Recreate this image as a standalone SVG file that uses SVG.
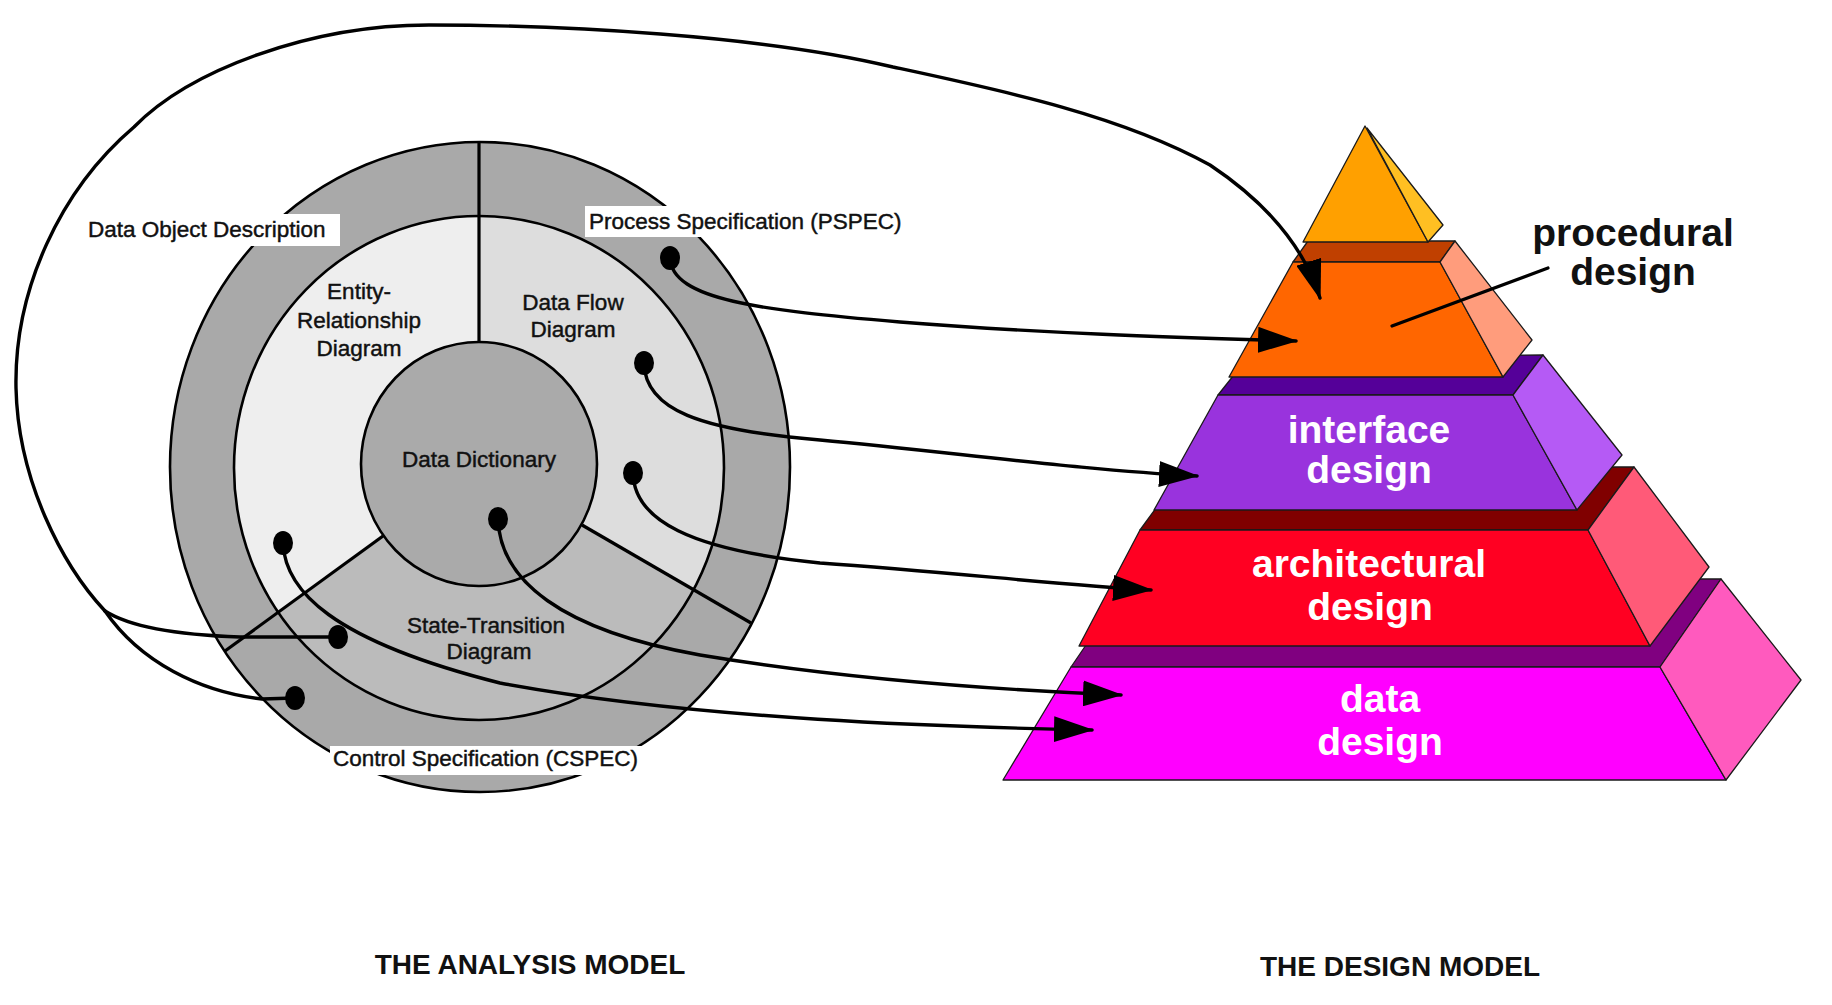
<svg xmlns="http://www.w3.org/2000/svg" width="1832" height="1005" viewBox="0 0 1832 1005">
  <style>
    .lbl { font-family: "Liberation Sans", Arial, sans-serif; font-size: 22.5px; fill: #111; stroke: #111; stroke-width: 0.45; }
    .mid { text-anchor: middle; }
    .pyr { font-family: "Liberation Sans", Arial, sans-serif; font-size: 39px; font-weight: bold; fill: #fff; text-anchor: middle; }
    .pblack { font-family: "Liberation Sans", Arial, sans-serif; font-size: 39px; font-weight: bold; fill: #111; text-anchor: middle; }
    .title { font-family: "Liberation Sans", Arial, sans-serif; font-size: 28px; font-weight: bold; fill: #111; text-anchor: middle; }
    .ring { stroke: #000; stroke-width: 2.6; }
    .div { stroke: #000; stroke-width: 3.2; fill: none; }
    .face { stroke: #1a1a1a; stroke-width: 1.3; stroke-linejoin: round; }
    .conn { fill: none; stroke: #000; stroke-width: 3.4; stroke-linecap: round; }
    .dot { fill: #000; }
    .box { fill: #fff; }
  </style>
  <defs>
    <marker id="ah" markerUnits="userSpaceOnUse" viewBox="0 0 40 26" markerWidth="40" markerHeight="26" refX="38" refY="13" orient="auto">
      <path d="M0,0 L40,13 L0,26 z" fill="#000"/>
    </marker>
    <clipPath id="midClip">
      <ellipse cx="479" cy="468" rx="245" ry="252"/>
    </clipPath>
  </defs>

  <rect x="0" y="0" width="1832" height="1005" fill="#fff"/>

  <!-- ANALYSIS MODEL -->
  <g id="analysis-model">
    <g id="outer-ring">
      <ellipse class="ring" cx="480" cy="467" rx="310" ry="325" fill="#a9a9a9"/>
    </g>
    <g id="middle-ring">
      <ellipse cx="479" cy="468" rx="245" ry="252" fill="#eeeeee"/>
      <g clip-path="url(#midClip)">
        <polygon id="dfd-sector" points="479,466 479,-300 1300,-300 1300,940" fill="#dddddd"/>
        <polygon id="std-sector" points="479,466 1300,940 -329,1055" fill="#bbbbbb"/>
      </g>
      <ellipse class="ring" cx="479" cy="468" rx="245" ry="252" fill="none"/>
    </g>
    <g id="data-dictionary">
      <ellipse class="ring" cx="479" cy="464" rx="118" ry="122" fill="#aaaaaa"/>
      <text class="lbl mid" x="479" y="467">Data Dictionary</text>
    </g>
    <g id="dividers">
      <line class="div" x1="479" y1="142" x2="479" y2="342"/>
      <line class="div" x1="383" y1="536" x2="225" y2="651"/>
      <line class="div" x1="582" y1="525" x2="751" y2="623"/>
    </g>
    <g id="entity-relationship-diagram">
      <text class="lbl mid" x="359" y="299">Entity-</text>
      <text class="lbl mid" x="359" y="328">Relationship</text>
      <text class="lbl mid" x="359" y="356">Diagram</text>
    </g>
    <g id="data-flow-diagram">
      <text class="lbl mid" x="573" y="310">Data Flow</text>
      <text class="lbl mid" x="573" y="337">Diagram</text>
    </g>
    <g id="state-transition-diagram">
      <text class="lbl mid" x="486" y="633">State-Transition</text>
      <text class="lbl mid" x="489" y="659">Diagram</text>
    </g>
    <g id="data-object-description">
      <rect class="box" x="84" y="214" width="256" height="32"/>
      <text class="lbl" x="88" y="237">Data Object Description</text>
    </g>
    <g id="process-specification">
      <rect class="box" x="585" y="206" width="318" height="31"/>
      <text class="lbl" x="589" y="229">Process Specification (PSPEC)</text>
    </g>
    <g id="control-specification">
      <rect class="box" x="330" y="746" width="314" height="29"/>
      <text class="lbl" x="333" y="766">Control Specification (CSPEC)</text>
    </g>
  </g>

  <!-- DESIGN MODEL PYRAMID -->
  <g id="design-model">
    <g id="data-design">
      <polygon class="face" points="1071,667 1131,579 1721,579 1660,667" fill="#800080"/>
      <polygon class="face" points="1071,667 1660,667 1726,780 1003,780" fill="#ff00ff"/>
      <polygon class="face" points="1660,667 1721,579 1801,680 1726,780" fill="#ff5abe"/>
      <text class="pyr" x="1380" y="712">data</text>
      <text class="pyr" x="1380" y="755">design</text>
    </g>
    <g id="architectural-design">
      <polygon class="face" points="1140,530 1186,467 1634,467 1588,530" fill="#800000"/>
      <polygon class="face" points="1140,530 1588,530 1650,646 1079,646" fill="#ff0022"/>
      <polygon class="face" points="1588,530 1634,467 1709,567 1650,646" fill="#ff5a78"/>
      <text class="pyr" x="1369" y="577">architectural</text>
      <text class="pyr" x="1370" y="620">design</text>
    </g>
    <g id="interface-design">
      <polygon class="face" points="1218,395 1249,356 1543,355 1513,395" fill="#550099"/>
      <polygon class="face" points="1218,395 1513,395 1577,510 1154,510" fill="#9933dd"/>
      <polygon class="face" points="1513,395 1543,355 1622,455 1577,510" fill="#b55af5"/>
      <text class="pyr" x="1369" y="443">interface</text>
      <text class="pyr" x="1369" y="483">design</text>
    </g>
    <g id="procedural-design">
      <polygon class="face" points="1293,262 1308,241 1455,241 1440,262" fill="#c04000"/>
      <polygon class="face" points="1293,262 1440,262 1503,377 1229,377" fill="#ff6600"/>
      <polygon class="face" points="1440,262 1455,241 1532,340 1503,377" fill="#ff9c7c"/>
    </g>
    <g id="top-component">
      <polygon class="face" points="1365,126 1303,242 1428,242" fill="#ffa000"/>
      <polygon class="face" points="1367,128 1443,225 1428,242" fill="#ffbf22"/>
    </g>
    <g id="procedural-label">
      <text class="pblack" x="1633" y="246">procedural</text>
      <text class="pblack" x="1633" y="285">design</text>
      <line x1="1548" y1="268" x2="1392" y2="326" stroke="#000" stroke-width="3.2" stroke-linecap="round"/>
    </g>
  </g>

  <!-- CONNECTORS -->
  <g id="connectors">
    <path class="conn" d="M670,258 C672,300 760,310 900,322 C1050,334 1200,338 1296,341" marker-end="url(#ah)"/>
    <path class="conn" d="M644,363 C645,410 700,430 820,440 C950,452 1080,470 1197,476" marker-end="url(#ah)"/>
    <path class="conn" d="M633,473 C634,520 690,550 820,563 C950,572 1060,585 1151,590" marker-end="url(#ah)"/>
    <path class="conn" d="M498,519 C500,580 560,630 700,655 C850,680 1000,690 1121,695" marker-end="url(#ah)"/>
    <path class="conn" d="M283,543 C285,590 330,640 500,683 C700,720 950,727 1092,730" marker-end="url(#ah)"/>
    <path class="conn" d="M105,611 C62,565 18,480 16,388 C14,290 60,190 134,127 C190,70 310,25 429,25 C560,25 760,35 893,67 C1000,90 1120,115 1210,165 C1270,205 1305,250 1320,298" marker-end="url(#ah)"/>
    <path class="conn" d="M338,637 L240,637 C180,635 130,627 105,611"/>
    <path class="conn" d="M295,698 L262,699 C200,692 140,662 105,611"/>
    <ellipse class="dot" cx="670" cy="258" rx="10" ry="12"/>
    <ellipse class="dot" cx="644" cy="363" rx="10" ry="12"/>
    <ellipse class="dot" cx="633" cy="473" rx="10" ry="12"/>
    <ellipse class="dot" cx="498" cy="519" rx="10" ry="12"/>
    <ellipse class="dot" cx="283" cy="543" rx="10" ry="12"/>
    <ellipse class="dot" cx="338" cy="637" rx="10" ry="12"/>
    <ellipse class="dot" cx="295" cy="698" rx="10" ry="12"/>
  </g>

  <g id="titles">
    <text class="title" x="530" y="974">THE ANALYSIS MODEL</text>
    <text class="title" x="1400" y="976">THE DESIGN MODEL</text>
  </g>
</svg>
